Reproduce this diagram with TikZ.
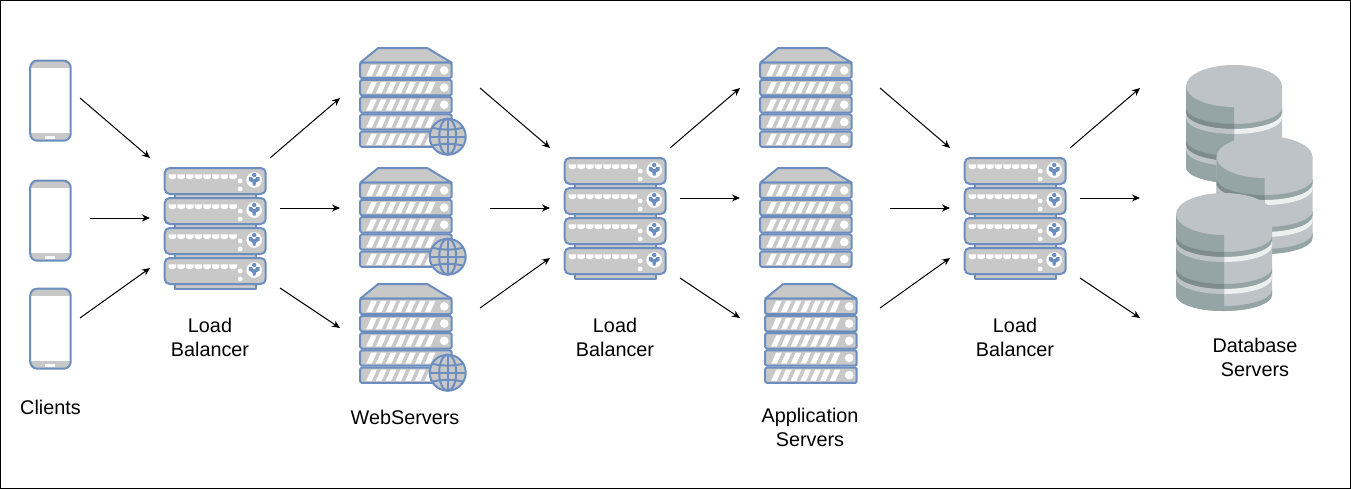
\documentclass[tikz,border=0pt]{standalone}
\usepackage{fontspec}
\setmainfont{Liberation Sans}
\usetikzlibrary{arrows.meta}
\definecolor{ib}{HTML}{6C8EBF}
\definecolor{ig}{HTML}{C8C8C8}
\definecolor{dbA}{HTML}{BDC3C7}
\definecolor{dbB}{HTML}{95A5A6}
\definecolor{dbC}{HTML}{7F8C8D}
\definecolor{dbD}{HTML}{ECF0F1}
\tikzset{
  icon/.style={draw=ib,line width=2pt,fill=ig,line join=round},
  conn/.style={draw=black,line width=1pt,-{Stealth[length=8pt,width=7pt]}},
  lab/.style={align=center,font=\fontsize{19.8}{24}\selectfont,text=black,inner sep=0pt},
  phone/.pic={
    \begin{scope}
      \clip[rounded corners=7pt] (0,0) rectangle (40.5,80);
      \fill[ig] (0,0) rectangle (40.5,7);
      \fill[ig] (0,72.5) rectangle (40.5,80);
    \end{scope}
    \fill[white] (15,75.5) rectangle (25,78);
    \draw[icon,fill=none,rounded corners=7pt] (0,0) rectangle (40.5,80);
  },
  lbunit/.pic={
    \draw[icon,rounded corners=5pt] (0,0) rectangle (101,26);
    \foreach \i in {0,...,7}{
      \fill[white] (4+8.65*\i,6.4) -- (11.5+8.65*\i,6.4) -- (11.5+8.65*\i,9.4) -- (9.4+8.65*\i,11) -- (6.1+8.65*\i,11) -- (4+8.65*\i,9.4) -- cycle;
    }
    \fill[white] (75.5,13) circle (2.4);
    \fill[white] (75.5,21) circle (2.4);
    \fill[white] (89.5,12) circle (7.8);
    \fill[ib] (89.5,7) circle (2.2);
    \fill[ib] (84.2,9) -- (87.3,9) -- (88.6,11) -- (90.4,11) -- (91.7,9) -- (94.8,9) -- (94.8,12.5) -- (91.3,14.5) -- (90.8,17.5) -- (88.2,17.5) -- (87.7,14.5) -- (84.2,12.5) -- cycle;
  },
  lbal/.pic={
    \draw[icon] (10.5,20) rectangle (91.5,121);
    \foreach \yy in {0,30,60,90}{ \pic at (0,\yy) {lbunit}; }
  },
  srvunit/.pic={
    \draw[icon,rounded corners=1.5pt] (0,0) rectangle (91.5,15.4);
    \foreach \i in {0,...,6}{
      \fill[white] (6+9.75*\i,13.4) -- (11.6+9.75*\i,13.4) -- (16.6+9.75*\i,2.2) -- (11+9.75*\i,2.2) -- cycle;
    }
    \fill[white] (84,7.7) circle (4.3);
  },
  srv/.pic={
    \draw[icon] (0,14.7) -- (18,0) -- (67,0) -- (91.5,14.7) -- cycle;
    \foreach \yy in {14.7,31.9,49.1,66.3,83.5}{ \pic at (0,\yy) {srvunit}; }
  },
  globe/.pic={
    \draw[ib,line width=2pt,fill=ig] (0,0) circle (18);
    \draw[ib,line width=2pt] (0,0) ellipse (8.5 and 18);
    \draw[ib,line width=2pt] (0,-18) -- (0,18);
    \draw[ib,line width=2pt] (-18,0) -- (18,0);
    \draw[ib,line width=2pt] (-15.5,-9) .. controls (-6,-6.5) and (6,-6.5) .. (15.5,-9);
    \draw[ib,line width=2pt] (-15.5,9) .. controls (-6,6.5) and (6,6.5) .. (15.5,9);
  },
  disk/.pic={
    \fill[dbA] (0,21) -- (0,102) arc[start angle=180,end angle=0,x radius=48,y radius=16] -- (96,21) -- cycle;
    \fill[dbB] (0,97) arc[start angle=180,end angle=0,x radius=48,y radius=16] -- (96,102) arc[start angle=0,end angle=180,x radius=48,y radius=16] -- cycle;
    \fill[dbB] (0,43) arc[start angle=180,end angle=0,x radius=48,y radius=16] -- (96,48) arc[start angle=0,end angle=180,x radius=48,y radius=16] -- cycle;
    \fill[dbD] (0,48) arc[start angle=180,end angle=0,x radius=48,y radius=16] -- (96,53) arc[start angle=0,end angle=180,x radius=48,y radius=16] -- cycle;
    \fill[dbB] (0,75) arc[start angle=180,end angle=0,x radius=48,y radius=16] -- (96,80) arc[start angle=0,end angle=180,x radius=48,y radius=16] -- cycle;
    \fill[dbD] (0,80) arc[start angle=180,end angle=0,x radius=48,y radius=16] -- (96,85) arc[start angle=0,end angle=180,x radius=48,y radius=16] -- cycle;
    \begin{scope}
      \clip (0,0) rectangle (48,130);
      \fill[dbB] (0,21) -- (0,102) arc[start angle=180,end angle=0,x radius=48,y radius=16] -- (96,21) -- cycle;
      \fill[dbC] (0,43) arc[start angle=180,end angle=0,x radius=48,y radius=16] -- (96,48) arc[start angle=0,end angle=180,x radius=48,y radius=16] -- cycle;
      \fill[dbA] (0,48) arc[start angle=180,end angle=0,x radius=48,y radius=16] -- (96,53) arc[start angle=0,end angle=180,x radius=48,y radius=16] -- cycle;
      \fill[dbC] (0,75) arc[start angle=180,end angle=0,x radius=48,y radius=16] -- (96,80) arc[start angle=0,end angle=180,x radius=48,y radius=16] -- cycle;
      \fill[dbA] (0,80) arc[start angle=180,end angle=0,x radius=48,y radius=16] -- (96,85) arc[start angle=0,end angle=180,x radius=48,y radius=16] -- cycle;
    \end{scope}
    \fill[dbA] (48,21) ellipse (48 and 21);
  }
}
\newcommand{\conn}[5]{%
  \coordinate (#1s) at (#2,#3);
  \coordinate (#1e) at (#4,#5);
  \draw[conn] (#1s) -- (#1e);
}
\begin{document}
\begin{tikzpicture}[x=1pt,y=-1pt]
\useasboundingbox (0,0) rectangle (1351,490);
\fill[white] (0,0) rectangle (1351,490);
\draw[black,line width=1pt] (0.5,0.5) rectangle (1350.5,488.5);
% clients
\pic at (30.2,60.7) {phone};
\pic at (30.2,180.7) {phone};
\pic at (30.2,288.7) {phone};
% load balancers
\pic at (164.7,168) {lbal};
\pic at (564.7,158) {lbal};
\pic at (964.7,158) {lbal};
% web servers
\pic at (360.2,48) {srv};
\pic at (447.7,136.7) {globe};
\pic at (360.2,168) {srv};
\pic at (447.7,256.7) {globe};
\pic at (360.2,284) {srv};
\pic at (447.7,372.7) {globe};
% application servers
\pic at (760.2,48) {srv};
\pic at (760.2,168) {srv};
\pic at (765.2,284) {srv};
% databases
\pic at (1186,65) {disk};
\pic at (1216.5,136) {disk};
\pic at (1176,193) {disk};
% connectors
\conn{a}{80}{98}{150}{158}
\conn{b}{90}{218}{150}{218}
\conn{c}{80}{318}{150}{268}
\conn{d}{270}{158}{340}{98}
\conn{f}{280}{208}{340}{208}
\conn{g}{280}{288}{340}{328}
\conn{h}{480}{88}{550}{148}
\conn{i}{490}{208}{550}{208}
\conn{j}{480}{308}{550}{258}
\conn{k}{670}{148}{740}{88}
\conn{l}{680}{198}{740}{198}
\conn{m}{680}{278}{740}{318}
\conn{n}{880}{88}{950}{148}
\conn{o}{890}{208}{950}{208}
\conn{p}{880}{308}{950}{258}
\conn{q}{1070}{148}{1140}{88}
\conn{r}{1080}{198}{1140}{198}
\conn{t}{1080}{278}{1140}{318}
% labels
\node[lab] (clients) at (50.5,407) {Clients};
\node[lab] (lb1) at (210,337) {Load\\Balancer};
\node[lab] (web) at (405,417) {WebServers};
\node[lab] (lb2) at (615,337) {Load\\Balancer};
\node[lab] (app) at (810,427) {Application\\Servers};
\node[lab] (lb3) at (1015,337) {Load\\Balancer};
\node[lab] (dbs) at (1255,357) {Database\\Servers};
\end{tikzpicture}
\end{document}
